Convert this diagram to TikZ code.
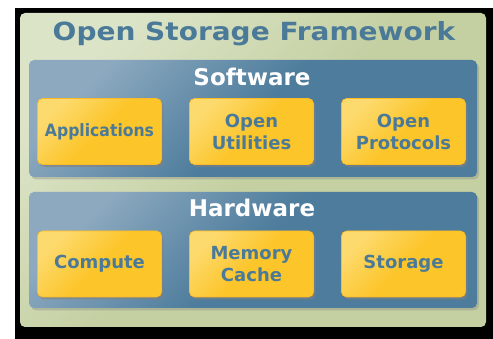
\documentclass[tikz,border=0pt]{standalone}
\usepackage{fontspec}
\setmainfont{DejaVu Sans}
\usetikzlibrary{shadows}

\definecolor{osfback}{HTML}{000000}
\definecolor{osfgreen}{HTML}{C4D0A2}
\definecolor{osfgreenlt}{HTML}{DCE4C8}
\definecolor{osfblue}{HTML}{4D7C9C}
\definecolor{osfbluelt}{HTML}{8CA9BF}
\definecolor{osfyellow}{HTML}{FCC52A}
\definecolor{osfyellowlt}{HTML}{FDDA6E}
\definecolor{osftext}{HTML}{4B7A99}

\begin{document}
\begin{tikzpicture}[x=1pt,y=1pt,node distance=152pt,inner sep=0pt]
  \tikzstyle{frame}=[rounded corners=5pt,minimum width=466pt,minimum height=314pt,
                     top color=osfgreenlt,bottom color=osfgreen,middle color=osfgreen,
                     shading angle=45]
  \tikzstyle{layer}=[rounded corners=5pt,minimum width=448pt,
                     top color=osfbluelt,bottom color=osfblue,middle color=osfblue,
                     shading angle=45,
                     drop shadow={shadow xshift=2pt,shadow yshift=-2.5pt,opacity=0.35}]
  \tikzstyle{part}=[rounded corners=5pt,minimum width=124pt,minimum height=66pt,
                    top color=osfyellowlt,bottom color=osfyellow,middle color=osfyellow,
                    shading angle=45,draw=osfyellow!85!orange,line width=0.6pt,
                    drop shadow={shadow xshift=2pt,shadow yshift=-2.5pt,opacity=0.6},
                    align=center,text=osftext,
                    font=\fontsize{18}{22}\selectfont\bfseries]
  \tikzstyle{head}=[text=white,font=\fontsize{23}{26}\selectfont\bfseries]

  \fill[white] (0,0) rectangle (493,-339);
  \useasboundingbox (0,0) rectangle (493,-339);
  \fill[osfback] (15,-8) rectangle (493,-339);

  \node[frame] (osf) at (253,-170) {};
  \node[text=osftext,font=\fontsize{25}{28}\selectfont\bfseries] (osftitle) at (254,-34)
       {\scalebox{1.12}[1]{Open Storage Framework}};

  % software layer
  \node[layer,minimum height=117pt] (sw) at (253,-118.5) {};
  \node[head] (swtitle) at (252,-77) {Software};
  \node[part,font=\fontsize{17}{22}\selectfont\bfseries] (apps) at (99.5,-131.5)
       {\scalebox{0.92}[1]{Applications}};
  \node[part] (utils) [right of=apps] {Open\\Utilities};
  \node[part] (protos) [right of=utils] {Open\\Protocols};

  % hardware layer
  \node[layer,minimum height=116pt] (hw) at (253,-250) {};
  \node[head] (hwtitle) at (252,-208) {Hardware};
  \node[part] (compute) at (99.5,-264) {Compute};
  \node[part] (cache) [right of=compute] {Memory\\Cache};
  \node[part] (storage) [right of=cache] {Storage};
\end{tikzpicture}
\end{document}
